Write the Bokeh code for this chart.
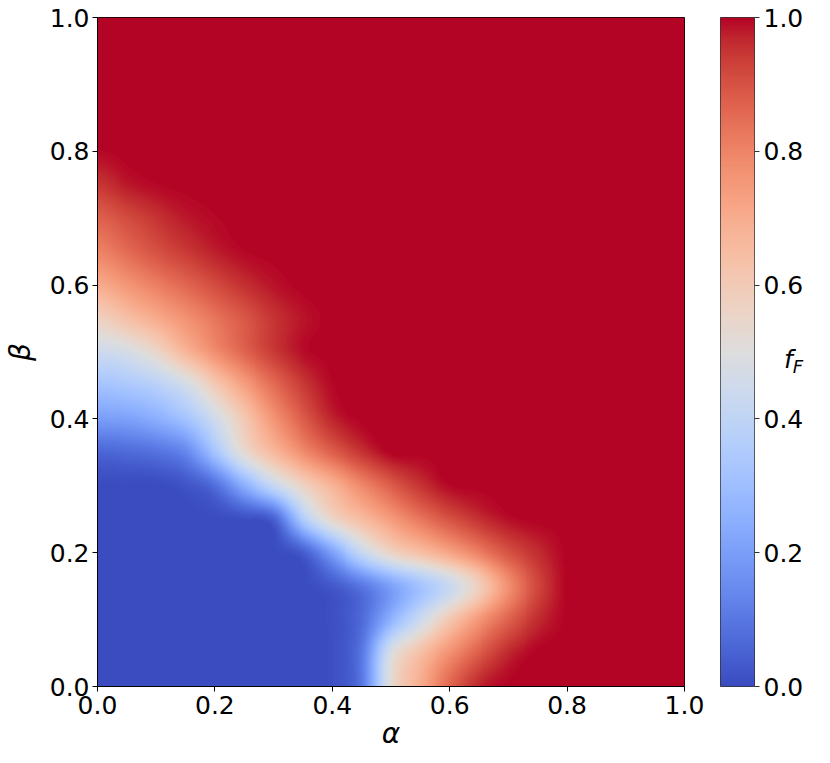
import numpy as np
from bokeh.plotting import figure
from bokeh.layouts import row
from bokeh.models import LinearColorMapper, Range1d, FixedTicker, Div
from bokeh.embed import file_html
from bokeh.resources import INLINE

# ---------------- data ----------------
# grid nodes: alpha = 0, 0.05, ..., 1.0 ; beta = 0, 0.05, ..., 1.0
alpha_nodes = [round(0.05 * i, 2) for i in range(21)]
beta_nodes = [round(0.05 * j, 2) for j in range(21)]

# f_F values, one list per beta row (beta ascending), values along alpha
fF_b000 = [0, 0, 0, 0, 0, 0, 0, 0, 0.01, 0.10, 0.52, 0.70, 0.86, 0.97, 1, 1, 1, 1, 1, 1, 1]
fF_b005 = [0, 0, 0, 0, 0, 0, 0, 0, 0.01, 0.10, 0.48, 0.64, 0.77, 0.88, 0.965, 1, 1, 1, 1, 1, 1]
fF_b010 = [0, 0, 0, 0, 0, 0, 0, 0, 0.01, 0.07, 0.26, 0.44, 0.61, 0.755, 0.87, 0.96, 1, 1, 1, 1, 1]
fF_b015 = [0, 0, 0, 0, 0, 0, 0, 0, 0.03, 0.10, 0.21, 0.32, 0.43, 0.585, 0.775, 0.92, 1, 1, 1, 1, 1]
fF_b020 = [0, 0, 0, 0, 0, 0, 0, 0.04, 0.21, 0.42, 0.56, 0.64, 0.72, 0.81, 0.90, 0.96, 1, 1, 1, 1, 1]
fF_b025 = [0, 0, 0, 0, 0, 0.01, 0.05, 0.35, 0.55, 0.65, 0.745, 0.83, 0.90, 0.955, 0.99, 1, 1, 1, 1, 1, 1]
fF_b030 = [0, 0, 0, 0.02, 0.08, 0.25, 0.42, 0.565, 0.68, 0.79, 0.88, 0.95, 0.995, 1, 1, 1, 1, 1, 1, 1, 1]
fF_b035 = [0.06, 0.07, 0.09, 0.14, 0.32, 0.53, 0.66, 0.78, 0.875, 0.95, 1, 1, 1, 1, 1, 1, 1, 1, 1, 1, 1]
fF_b040 = [0.20, 0.21, 0.25, 0.32, 0.45, 0.61, 0.76, 0.88, 0.97, 1, 1, 1, 1, 1, 1, 1, 1, 1, 1, 1, 1]
fF_b045 = [0.32, 0.34, 0.38, 0.46, 0.60, 0.735, 0.85, 0.94, 0.995, 1, 1, 1, 1, 1, 1, 1, 1, 1, 1, 1, 1]
fF_b050 = [0.44, 0.47, 0.55, 0.67, 0.775, 0.865, 0.94, 0.99, 1, 1, 1, 1, 1, 1, 1, 1, 1, 1, 1, 1, 1]
fF_b055 = [0.57, 0.635, 0.70, 0.765, 0.83, 0.89, 0.95, 0.985, 1, 1, 1, 1, 1, 1, 1, 1, 1, 1, 1, 1, 1]
fF_b060 = [0.70, 0.755, 0.81, 0.86, 0.91, 0.955, 0.985, 1, 1, 1, 1, 1, 1, 1, 1, 1, 1, 1, 1, 1, 1]
fF_b065 = [0.80, 0.85, 0.90, 0.94, 0.975, 0.995, 1, 1, 1, 1, 1, 1, 1, 1, 1, 1, 1, 1, 1, 1, 1]
fF_b070 = [0.87, 0.91, 0.95, 0.98, 0.995, 1, 1, 1, 1, 1, 1, 1, 1, 1, 1, 1, 1, 1, 1, 1, 1]
fF_b075 = [0.945, 0.98, 0.995, 1, 1, 1, 1, 1, 1, 1, 1, 1, 1, 1, 1, 1, 1, 1, 1, 1, 1]
fF_b080 = [0.995, 1, 1, 1, 1, 1, 1, 1, 1, 1, 1, 1, 1, 1, 1, 1, 1, 1, 1, 1, 1]
fF_b085 = [1] * 21
fF_b090 = [1] * 21
fF_b095 = [1] * 21
fF_b100 = [1] * 21

tick_values = [0.0, 0.2, 0.4, 0.6, 0.8, 1.0]
tick_labels = ["0.0", "0.2", "0.4", "0.6", "0.8", "1.0"]
cbar_ticks = [0.0, 0.2, 0.4, 0.6, 0.8, 1.0]
cbar_labels = ["0.0", "0.2", "0.4", "0.6", "0.8", "1.0"]

grid = np.array([fF_b000, fF_b005, fF_b010, fF_b015, fF_b020, fF_b025, fF_b030,
                 fF_b035, fF_b040, fF_b045, fF_b050, fF_b055, fF_b060, fF_b065,
                 fF_b070, fF_b075, fF_b080, fF_b085, fF_b090, fF_b095, fF_b100],
                dtype=float)

# ---------------- coolwarm colormap (Moreland table) ----------------
cw_table = [
    (59, 76, 192), (68, 90, 204), (77, 104, 215), (87, 117, 225), (98, 130, 234),
    (108, 142, 241), (119, 154, 247), (130, 165, 251), (141, 176, 254), (152, 185, 255),
    (163, 194, 255), (174, 201, 253), (184, 208, 249), (194, 213, 244), (204, 217, 238),
    (213, 219, 230), (221, 221, 221), (229, 216, 209), (236, 211, 197), (241, 204, 185),
    (245, 196, 173), (247, 187, 160), (247, 177, 148), (247, 166, 135), (244, 154, 123),
    (241, 141, 111), (236, 127, 99), (229, 112, 88), (222, 96, 77), (213, 80, 66),
    (203, 62, 56), (192, 40, 47), (180, 4, 38)]
cw = np.array(cw_table, dtype=float)
pos = np.linspace(0, 1, len(cw))
palette = []
for v in np.linspace(0, 1, 256):
    r = np.interp(v, pos, cw[:, 0]); g = np.interp(v, pos, cw[:, 1]); b = np.interp(v, pos, cw[:, 2])
    palette.append("#%02x%02x%02x" % (int(round(r)), int(round(g)), int(round(b))))

mapper = LinearColorMapper(palette=palette, low=0, high=1)


# bicubic (Keys) display interpolation, as imshow(interpolation="bicubic")
def keys_weights(t, a=-0.5):
    t = np.abs(t)
    return np.where(t <= 1, (a + 2) * t**3 - (a + 3) * t**2 + 1,
                    np.where(t < 2, a * t**3 - 5 * a * t**2 + 8 * a * t - 4 * a, 0.0))


def resample_1d(arr, n_out, axis):
    n = arr.shape[axis]
    u = (np.arange(n_out) + 0.5) / n_out * (n - 1)
    i0 = np.floor(u).astype(int)
    out = 0.0
    for k in (-1, 0, 1, 2):
        idx = np.clip(i0 + k, 0, n - 1)
        w = keys_weights(u - (i0 + k))
        shape = [1, 1]
        shape[axis] = n_out
        out = out + np.take(arr, idx, axis=axis) * w.reshape(shape)
    return out


img = resample_1d(grid, 600, axis=1)
img = resample_1d(img, 670, axis=0)
img = np.clip(img, 0, 1).astype(np.float32)

FONT = "DejaVu Sans"

# ---------------- main heat map ----------------
p = figure(output_backend="svg", toolbar_location=None,
           x_range=Range1d(0, 1), y_range=Range1d(0, 1),
           frame_width=587, frame_height=669,
           min_border_left=96, min_border_right=24, min_border_top=17, min_border_bottom=0)
p.image(image=[img], x=0, y=0, dw=1, dh=1, color_mapper=mapper)
p.grid.visible = False
p.outline_line_color = "black"
p.outline_line_width = 1
p.background_fill_color = "white"
p.border_fill_color = "white"

for ax in (p.xaxis[0], p.yaxis[0]):
    ax.ticker = FixedTicker(ticks=tick_values)
    ax.major_label_overrides = {v: l for v, l in zip(tick_values, tick_labels)}
    ax.major_label_text_font = FONT
    ax.major_label_text_font_size = "25px"
    ax.major_label_text_color = "black"
    ax.major_tick_in = 0
    ax.major_tick_out = 5
    ax.major_tick_line_color = "black"
    ax.minor_tick_line_color = None
    ax.axis_line_color = "black"
    ax.axis_label_text_font = FONT
    ax.axis_label_text_font_size = "28px"
    ax.axis_label_text_font_style = "italic"
    ax.axis_label_text_color = "black"

p.xaxis.axis_label = "α"
p.yaxis.axis_label = "β"
p.xaxis.major_label_standoff = 4
p.xaxis.axis_label_standoff = 0
p.yaxis.major_label_standoff = 3
p.yaxis.axis_label_standoff = 10

# ---------------- colour bar ----------------
cb = figure(output_backend="svg", toolbar_location=None,
            x_range=Range1d(0, 1), y_range=Range1d(0, 1),
            frame_width=34, frame_height=669, y_axis_location="right",
            min_border_left=12, min_border_right=55, min_border_top=17, min_border_bottom=20)
cb.image(image=[np.linspace(0, 1, 256).reshape(256, 1).astype(np.float32)],
         x=0, y=0, dw=1, dh=1, color_mapper=mapper)
cb.grid.visible = False
cb.xaxis.visible = False
cb.outline_line_color = "#333333"
cb.outline_line_width = 1
ay = cb.yaxis[0]
ay.ticker = FixedTicker(ticks=cbar_ticks)
ay.major_label_overrides = {v: l for v, l in zip(cbar_ticks, cbar_labels)}
ay.major_label_text_font = FONT
ay.major_label_text_font_size = "25px"
ay.major_label_text_color = "black"
ay.major_tick_in = 0
ay.major_tick_out = 5
ay.major_tick_line_color = "#333333"
ay.minor_tick_line_color = None
ay.axis_line_color = None
ay.major_label_standoff = 4

label_html = ('<div style="position:relative; left:-30px; top:342px; white-space:nowrap; '
              'font-family:\'DejaVu Sans\'; font-size:25px; line-height:25px; color:black;">'
              '<i>f</i><span style="position:relative; top:5px; font-size:18px;"><i>F</i></span></div>')
lab = Div(text=label_html, width=22, height=700)

layout = row(p, cb, lab)
open("out.html", "w").write(file_html(layout, INLINE))
